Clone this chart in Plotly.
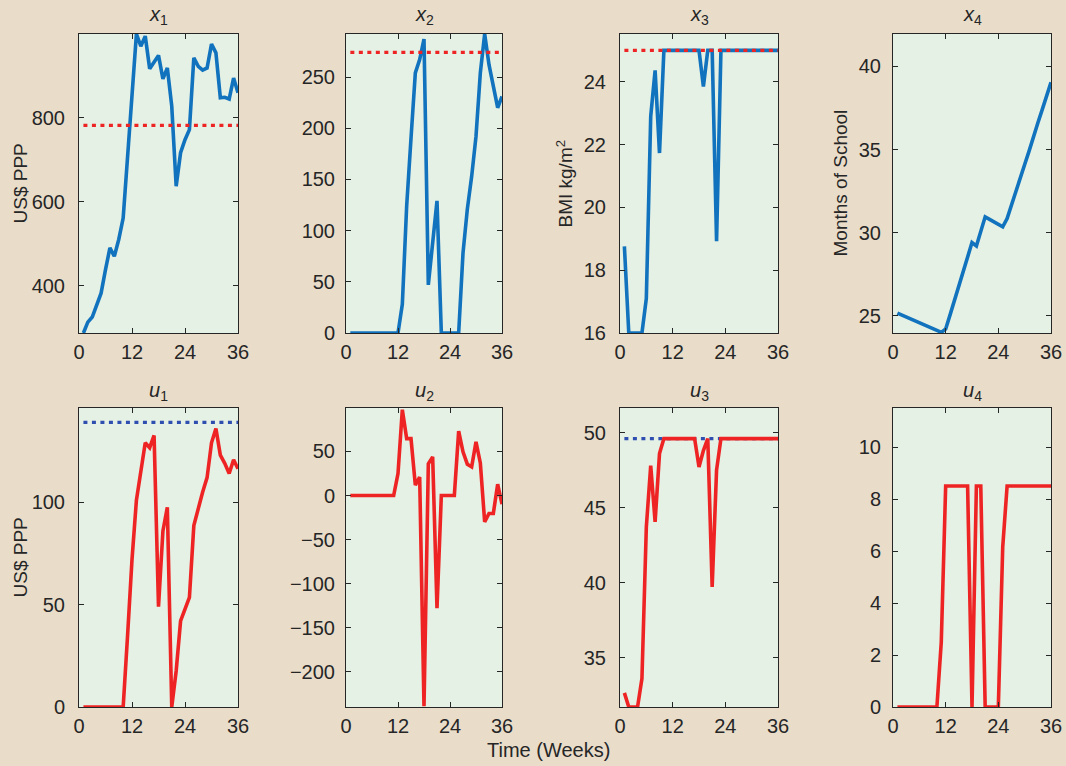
import plotly.graph_objects as go

W, H = 1066, 766

weeks = list(range(1, 37))

x1 = [287, 313, 325, 355, 382, 438, 490, 470, 510, 561, 700, 860, 1000, 971, 995, 917, 935, 949,
      893, 919, 828, 637, 717, 748, 772, 943, 923, 914, 919, 976, 955, 848, 849, 845, 895, 860]
x2 = [0, 0, 0, 0, 0, 0, 0, 0, 0, 0, 0, 0, 28, 124, 190, 254, 267, 287,
      47, 88, 129, 0, 0, 0, 0, 0, 78, 121, 153, 192, 254, 292, 262, 241, 220, 231]
x3 = [18.76, 16, 16, 16, 16, 17.1, 22.9, 24.36, 21.73, 25, 25, 25, 25, 25, 25, 25, 25, 25,
      23.85, 25, 25, 18.92, 25, 25, 25, 25, 25, 25, 25, 25, 25, 25, 25, 25, 25, 25]
x4 = [25.16, 25.05, 24.93, 24.82, 24.70, 24.58, 24.47, 24.35, 24.24, 24.12, 24.0, 24.2,
      25.05, 25.9, 26.8, 27.65, 28.5, 29.4, 29.2, 30.1, 30.95, 30.8, 30.65, 30.5, 30.35,
      30.85, 31.7, 32.5, 33.3, 34.1, 34.9, 35.8, 36.6, 37.4, 38.2, 39.04]

u1 = [0, 0, 0, 0, 0, 0, 0, 0, 0, 0, 35, 72, 101, 114, 129, 126.6, 132.6, 49,
      86, 97.5, 0, 17.6, 42, 47.8, 53.5, 88.6, 97.5, 105, 112, 129, 136, 123, 119, 114, 120.7, 116.3]
u2 = [0, 0, 0, 0, 0, 0, 0, 0, 0, 0, 0, 24.9, 97.4, 64.6, 64.6, 11.7, 21, -239,
      36, 43.8, -128, 0, 0, 0, 0, 73, 49.5, 35.5, 32.5, 60.8, 37, -30, -20.4, -20.4, 12.8, -9.8]
u3 = [32.64, 31.7, 31.7, 31.7, 33.6, 43.7, 47.8, 44.05, 48.6, 49.6, 49.6, 49.6, 49.6, 49.6,
      49.6, 49.6, 49.6, 47.7, 48.8, 49.6, 39.7, 47.5, 49.6, 49.6, 49.6, 49.6, 49.6, 49.6,
      49.6, 49.6, 49.6, 49.6, 49.6, 49.6, 49.6, 49.6]
u4 = [0, 0, 0, 0, 0, 0, 0, 0, 0, 0, 2.5, 8.5, 8.5, 8.5, 8.5, 8.5, 8.5, 0,
      8.5, 8.5, 0, 0, 0, 0, 6.15, 8.5, 8.5, 8.5, 8.5, 8.5, 8.5, 8.5, 8.5, 8.5, 8.5, 8.5]

# reference (target) levels; None = no reference line
targets = {"x1": 782, "x2": 274, "x3": 25, "x4": None,
           "u1": 139, "u2": None, "u3": 49.6, "u4": None}

x_ticks = [0, 12, 24, 36]
y_ticks = {
    "x1": [400, 600, 800], "x2": [0, 50, 100, 150, 200, 250], "x3": [16, 18, 20, 22, 24],
    "x4": [25, 30, 35, 40], "u1": [0, 50, 100], "u2": [-200, -150, -100, -50, 0, 50],
    "u3": [35, 40, 45, 50], "u4": [0, 2, 4, 6, 8, 10],
}
y_ranges = {
    "x1": [287, 1000], "x2": [0, 292], "x3": [16, 25.52], "x4": [23.96, 41.95],
    "u1": [0, 146], "u2": [-240, 99.3], "u3": [31.7, 51.64], "u4": [0, 11.5],
}
y_labels = {"x1": "US$ PPP", "x3": "BMI kg/m<sup>2</sup>", "x4": "Months of School", "u1": "US$ PPP"}

series = {"x1": x1, "x2": x2, "x3": x3, "x4": x4, "u1": u1, "u2": u2, "u3": u3, "u4": u4}
order = ["x1", "x2", "x3", "x4", "u1", "u2", "u3", "u4"]

BLUE = "#1172BE"
RED = "#EE2424"
DOTBLUE = "#2F4FB0"
TXT = "#262626"
FONT = "Liberation Sans, Arial, Helvetica, sans-serif"

col_px = [(79, 238), (346, 502), (620, 778), (893, 1051)]
row_px = [(34, 333), (408, 707)]
ylab_x = [20, None, 565, 840]
y_standoff = [9, 6, 9, 7]

fig = go.Figure()
layout = dict(
    width=W, height=H, margin=dict(l=0, r=0, t=0, b=0, autoexpand=False),
    paper_bgcolor="#E9DDCA", plot_bgcolor="#E5F1E5",
    showlegend=False, font=dict(family=FONT, color=TXT, size=20),
)
annotations = []

for i, name in enumerate(order):
    r, c = divmod(i, 4)
    k = i + 1
    xa = "x" if k == 1 else f"x{k}"
    ya = "y" if k == 1 else f"y{k}"
    is_state = name.startswith("x")
    color = BLUE if is_state else RED
    tgt = targets[name]
    line_tr = go.Scatter(x=weeks, y=series[name], mode="lines", xaxis=xa, yaxis=ya,
                         line=dict(color=color, width=3.6), cliponaxis=True)
    if tgt is not None:
        tgt_tr = go.Scatter(x=[weeks[0], weeks[-1]], y=[tgt, tgt], mode="lines", xaxis=xa, yaxis=ya,
                            line=dict(color=RED if is_state else DOTBLUE, width=3.2, dash="4px,4.5px"))
        if is_state:
            fig.add_trace(line_tr); fig.add_trace(tgt_tr)
        else:
            fig.add_trace(tgt_tr); fig.add_trace(line_tr)
    else:
        fig.add_trace(line_tr)

    x0, x1p = col_px[c]
    y0, y1p = row_px[r]
    common = dict(showline=True, linecolor=TXT, linewidth=1, mirror="ticks", ticks="inside",
                  ticklen=5, tickwidth=1, tickcolor=TXT, showgrid=False, zeroline=False,
                  automargin=False, tickfont=dict(family=FONT, size=20, color=TXT))
    layout["xaxis" if k == 1 else f"xaxis{k}"] = dict(
        domain=[x0 / W, x1p / W], range=[0, 36], tickvals=x_ticks, anchor=ya,
        ticklabelstandoff=1, **common)
    layout["yaxis" if k == 1 else f"yaxis{k}"] = dict(
        domain=[1 - y1p / H, 1 - y0 / H], range=y_ranges[name], tickvals=y_ticks[name],
        anchor=xa, ticklabelstandoff=y_standoff[c], **common)

    sub = name[1]
    annotations.append(dict(text=f"<i>{name[0]}</i><sub>{sub}</sub>", x=(x0 + x1p) / 2 / W,
                            y=1 - (16 if r == 0 else 391) / H, xref="paper", yref="paper",
                            showarrow=False, xanchor="center", yanchor="middle",
                            font=dict(family=FONT, size=20, color=TXT)))
    if name in y_labels:
        annotations.append(dict(text=y_labels[name], x=ylab_x[c] / W, y=1 - (y0 + y1p) / 2 / H,
                                xref="paper", yref="paper", showarrow=False, textangle=-90,
                                xanchor="center", yanchor="middle",
                                font=dict(family=FONT, size=19, color=TXT)))

annotations.append(dict(text="Time (Weeks)", x=548 / W, y=1 - 750 / H, xref="paper", yref="paper",
                        showarrow=False, xanchor="center", yanchor="middle",
                        font=dict(family=FONT, size=20, color=TXT)))
layout["annotations"] = annotations
fig.update_layout(**layout)
fig.write_html("out.html", config={"displayModeBar": False},
               post_script="document.body.style.margin='0';document.body.style.overflow='hidden';"
                           "document.body.style.background='#E9DDCA';")
